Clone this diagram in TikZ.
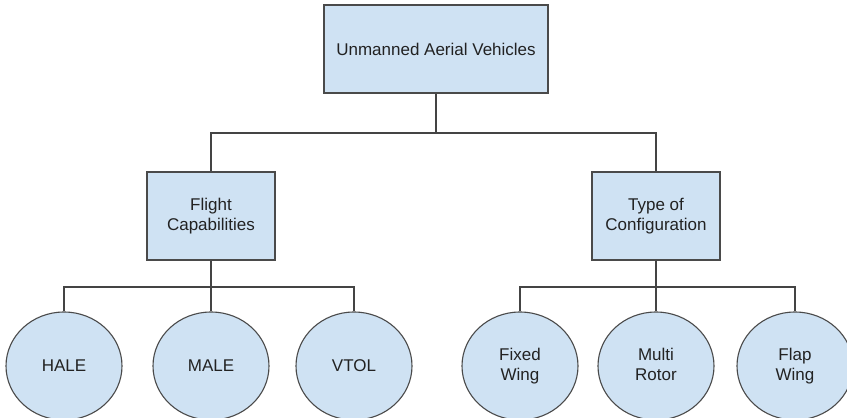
\documentclass[tikz,border=0pt]{standalone}
\usepackage{fontspec}
\setmainfont{Liberation Sans}
\usetikzlibrary{shapes.geometric}
\definecolor{boxfill}{HTML}{CFE2F3}
\definecolor{boxline}{HTML}{4A4A4A}
\definecolor{conn}{HTML}{444444}
\definecolor{txt}{HTML}{222222}
\begin{document}
\begin{tikzpicture}[x=1pt,y=-1pt,
  every node/.style={font=\fontsize{17}{19.5}\selectfont, text=txt, align=center, inner sep=0pt},
  boxnode/.style={draw=boxline, fill=boxfill, line width=1.1pt, rectangle},
  ovalnode/.style={draw=boxline, fill=boxfill, line width=1.1pt, ellipse, minimum width=116pt, minimum height=108pt},
  link/.style={draw=conn, line width=1.1pt}]
\useasboundingbox (0,0) rectangle (847,418);
\clip (0,0) rectangle (847,418);
\fill[white] (0,0) rectangle (847,418);
% junctions
\coordinate (j1) at (436,133);
\coordinate (j2) at (211,287);
\coordinate (j3) at (656,287);
% nodes
\node[boxnode, minimum width=224pt, minimum height=88pt] (uav) at (436,49) {Unmanned Aerial Vehicles};
\node[boxnode, minimum width=128pt, minimum height=88pt] (fc) at (211,216) {Flight\\Capabilities};
\node[boxnode, minimum width=128pt, minimum height=88pt] (tc) at (656,216) {Type of\\Configuration};
\node[ovalnode] (hale) at (64,366) {HALE};
\node[ovalnode] (male) at (211,366) {MALE};
\node[ovalnode] (vtol) at (354,366) {VTOL};
\node[ovalnode] (fw) at (520,366) {Fixed\\Wing};
\node[ovalnode] (mr) at (656,366) {Multi\\Rotor\vphantom{g}};
\node[ovalnode] (flw) at (795,366) {Flap\\Wing};
% connectors
\draw[link] (uav.south) -- (j1);
\draw[link] (fc.north) |- (j1) -| (tc.north);
\draw[link] (fc.south) -- (male.north);
\draw[link] (hale.north) |- (j2) -| (vtol.north);
\draw[link] (tc.south) -- (mr.north);
\draw[link] (fw.north) |- (j3) -| (flw.north);
\end{tikzpicture}
\end{document}
